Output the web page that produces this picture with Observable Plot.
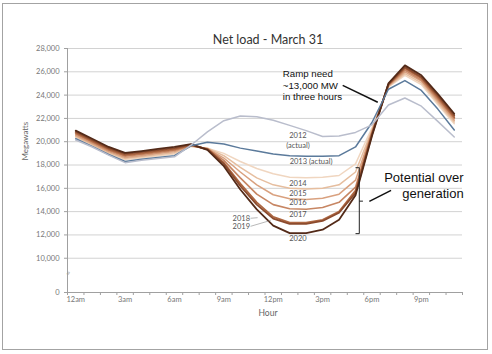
<!DOCTYPE html>
<html><head><meta charset="utf-8">
<script src="https://cdn.jsdelivr.net/npm/d3@7"></script>
<script src="https://cdn.jsdelivr.net/npm/@observablehq/plot@0.6"></script>
<style>
body{margin:0;background:#fff;}
#wrap{position:relative;width:492px;height:354px;}
#wrap svg{position:absolute;left:0;top:0;}
#border{position:absolute;left:2px;top:3px;width:484px;height:345px;border:1px solid #a3a3a3;pointer-events:none;}
</style></head><body><div id="wrap"></div>
<script>
// ---- data ----
const hours = [0,1,2,3,4,5,6,7,8,9,10,11,12,13,14,15,16,17,18,19,20,21,22,23];
const labelHours = [0,3,6,9,12,15,18,21];
const hourLabels = ["12am","3am","6am","9am","12pm","3pm","6pm","9pm"];
const yTicks = [0,10000,12000,14000,16000,18000,20000,22000,24000,26000,28000];
const gridTicks = [10000,12000,14000,16000,18000,20000,22000,24000,26000,28000];
const years = ["2014","2015","2016","2017","2018","2019","2020","2013","2012"];
const load2012 = [20150,19550,18850,18200,18400,18550,18700,19700,20850,21800,22200,22150,21850,21400,20950,20450,20500,20800,21450,23150,23750,23050,21750,20400];
const load2013 = [20250,19600,18900,18300,18500,18650,18800,19650,19950,19800,19450,19200,18950,18800,18750,18750,18800,19550,21650,24500,25250,24400,22800,21000];
const load2014 = [20350,19650,18950,18450,18600,18780,18950,19600,19450,19000,18300,17700,17250,16950,16900,16950,17100,18100,21200,24700,25700,24900,23200,21550];
const load2015 = [20450,19750,19050,18550,18700,18880,19050,19620,19450,18800,17800,16900,16300,16000,15950,16000,16300,17400,21000,24750,25850,25050,23350,21700];
const load2016 = [20550,19850,19150,18650,18800,18980,19150,19650,19400,18600,17400,16300,15450,15100,15050,15150,15500,16700,20900,24800,26000,25200,23500,21850];
const load2017 = [20650,19950,19250,18750,18900,19080,19250,19680,19400,18400,16900,15500,14600,14250,14200,14350,14800,16100,20800,24850,26150,25300,23650,22000];
const load2018 = [20750,20050,19350,18850,19000,19180,19350,19700,19350,18200,16400,14800,13550,13050,13050,13300,14000,15800,20700,24900,26300,25450,23800,22100];
const load2019 = [20850,20150,19450,18950,19100,19280,19450,19750,19350,18100,16200,14600,13400,12950,12950,13200,13900,15600,20600,24950,26400,25550,23950,22250];
const load2020 = [20950,20250,19550,19050,19200,19380,19550,19800,19300,17900,15900,14200,12800,12150,12150,12450,13300,15400,20500,25000,26550,25700,24100,22400];
const seriesValues = [load2014,load2015,load2016,load2017,load2018,load2019,load2020,load2013,load2012];
const colors = ["#f0d6c0","#e6be9f","#d9a17f","#c78663","#ad6742","#8c4b2d","#532a18","#5b7a9b","#b9bdcc"];
const widths = [1.5,1.5,1.5,1.6,1.8,1.8,1.8,1.5,1.5];

// series labels
const seriesLabelText = ["2012","(actual)","2013 (actual)","2014","2015","2016","2017","2018","2019","2020"];
const seriesLabelX = [13.5,13.5,14.3,13.5,13.5,13.5,13.5,10.06,10.06,13.5];
const seriesLabelY = [20540,19680,18290,16430,15510,14740,13710,13430,12740,11650];
// leaders for 2018 / 2019
const leaderX1 = [10.62,10.62], leaderY1 = [13430,12740], leaderX2 = [11.05,11.85], leaderY2 = [13480,13250];

// annotations
const rampText = "Ramp need\n~13,000 MW\nin three hours";
const rampPos = {x: 12.58, y: 24880};
const rampArrow = {x1: 16.22, y1: 24830, x2: 18.35, y2: 23390};
const overText = "Potential over\ngeneration";
const overPos = {x: 23.57, y: 16320};
const overArrow = {x1: 17.84, y1: 14880, x2: 19.16, y2: 15830};
const bracketX1 = [17.23,17.0,17.0,17.23], bracketY1 = [17770,17770,12110,14900];
const bracketX2 = [17.23,17.23,17.23,17.45], bracketY2 = [12110,17770,12110,14900];

// ---- broken y axis: 0–10,000 compressed ----
const BREAK = 10000, GAP = 2940; // 0..10,000 drawn in the space of 2,940 MW
const fy = v => v >= BREAK ? v : BREAK - (BREAK - v) * GAP / BREAK;
const fyInv = u => u >= BREAK ? u : BREAK - (BREAK - u) * BREAK / GAP;

// ---- build ----
const rows = [];
years.forEach((yr, i) => seriesValues[i].forEach((v, j) => rows.push({year: yr, hour: hours[j], mw: fy(v), w: widths[i]})));
const labelRows = seriesLabelText.map((t, i) => ({t, x: seriesLabelX[i], y: fy(seriesLabelY[i])}));
const leaders = leaderX1.map((_, i) => ({x1: leaderX1[i], y1: fy(leaderY1[i]), x2: leaderX2[i], y2: fy(leaderY2[i])}));
const bracket = bracketX1.map((_, i) => ({x1: bracketX1[i], y1: fy(bracketY1[i]), x2: bracketX2[i], y2: fy(bracketY2[i])}));
const halfTicks = hours.map(h => h - 0.5).concat([23.5]);

const chart = Plot.plot({
  width: 492, height: 354,
  marginLeft: 67, marginRight: 30, marginTop: 48, marginBottom: 62,
  style: {fontFamily: "Lato, 'Open Sans', sans-serif", background: "white", overflow: "visible"},
  x: {domain: [-0.5, 23.5]},
  y: {domain: [fy(0), 28000]},
  color: {domain: years, range: colors},
  marks: [
    Plot.gridY(gridTicks.map(fy), {stroke: "#d2d2d2", strokeOpacity: 1, strokeWidth: 1}),
    Plot.ruleX([-0.5], {y1: fy(0), y2: 28000, stroke: "#a0a0a0"}),
    Plot.ruleY([fy(0)], {x1: -0.5, x2: 23.5, stroke: "#a0a0a0"}),
    Plot.axisY(yTicks.map(fy), {tickSize: 3, tickPadding: 5, tickFormat: u => d3.format(",")(Math.round(fyInv(u))), fontSize: 7.5, fill: "#777", stroke: "#a0a0a0", label: null}),
    Plot.axisX(halfTicks, {tickSize: 3, tickFormat: () => "", stroke: "#a0a0a0", label: null}),
    Plot.axisX(labelHours, {tickSize: 0, tickPadding: 4, tickFormat: d => hourLabels[labelHours.indexOf(d)], fontSize: 7.5, fill: "#777", label: null}),
    Plot.text([fy(5000)], {y: d => d, frameAnchor: "left", text: () => "≈", rotate: -70, fontSize: 8, fill: "#999"}),
    Plot.line(rows, {x: "hour", y: "mw", z: "year", stroke: "year", strokeWidth: "w", curve: "linear"}),
    Plot.text(labelRows, {x: "x", y: "y", text: "t", fontSize: 7.5, fill: "#555"}),
    Plot.link(leaders, {x1: "x1", y1: "y1", x2: "x2", y2: "y2", stroke: "#888", strokeWidth: 0.6}),
    Plot.link(bracket, {x1: "x1", y1: "y1", x2: "x2", y2: "y2", stroke: "#222", strokeWidth: 1}),
    Plot.link([rampArrow], {x1: "x1", y1: "y1", x2: "x2", y2: "y2", stroke: "#111", strokeWidth: 1.5}),
    Plot.link([overArrow], {x1: "x1", y1: "y1", x2: "x2", y2: "y2", stroke: "#111", strokeWidth: 1.5}),
    Plot.text([rampPos], {x: "x", y: "y", text: () => rampText, textAnchor: "start", lineHeight: 1.2, fontSize: 9.7, fontFamily: "'Liberation Sans', Arial, sans-serif", fill: "#111"}),
    Plot.text([overPos], {x: "x", y: "y", text: () => overText, textAnchor: "end", lineHeight: 1.25, fontSize: 13, fontFamily: "'Liberation Sans', Arial, sans-serif", fill: "#111"}),
    Plot.text(["Net load - March 31"], {frameAnchor: "top", text: d => d, dx: 3, dy: -13, fontSize: 12.5, fill: "#333"}),
    Plot.text(["Hour"], {frameAnchor: "bottom", text: d => d, dx: 3, dy: 23, fontSize: 8.5, fill: "#666"}),
    Plot.text(["Megawatts"], {frameAnchor: "left", text: d => d, rotate: -90, dx: -42, dy: -10, fontSize: 8, fill: "#666"})
  ]
});
const wrap = document.getElementById("wrap");
wrap.appendChild(chart);
const b = document.createElement("div"); b.id = "border"; wrap.appendChild(b);
</script></body></html>
